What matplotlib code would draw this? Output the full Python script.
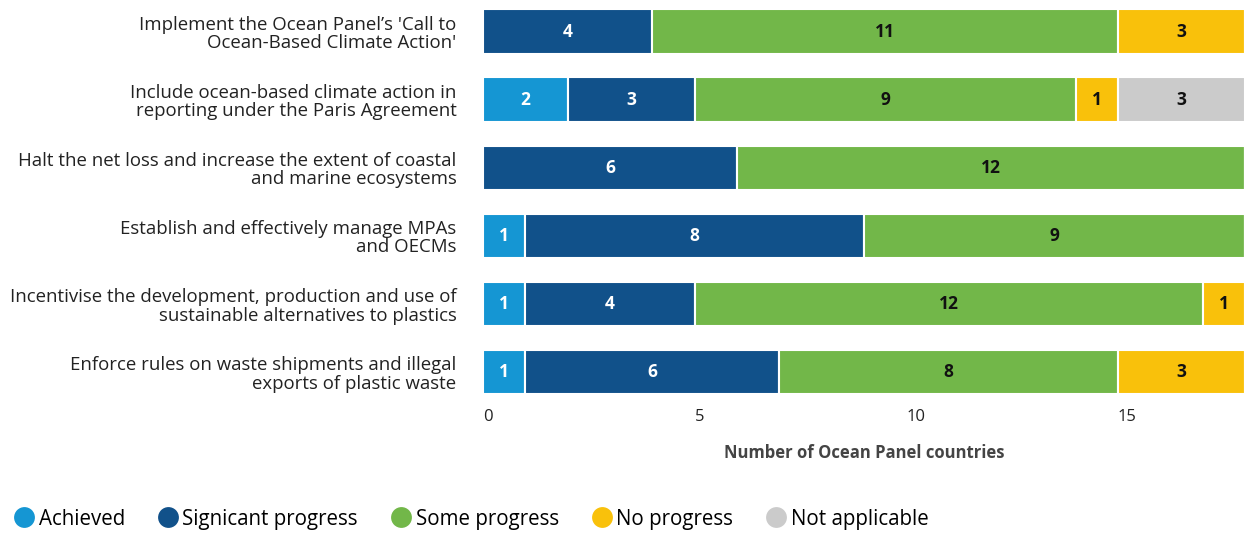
import numpy as np
import matplotlib.pyplot as plt
from matplotlib.lines import Line2D

# ---- data ----
actions = [
    "Implement the Ocean Panel\u2019s 'Call to\nOcean-Based Climate Action'",
    "Include ocean-based climate action in\nreporting under the Paris Agreement",
    "Halt the net loss and increase the extent of coastal\nand marine ecosystems",
    "Establish and effectively manage MPAs\nand OECMs",
    "Incentivise the development, production and use of\nsustainable alternatives to plastics",
    "Enforce rules on waste shipments and illegal\nexports of plastic waste",
]
achieved = [0, 2, 0, 1, 1, 1]
significant = [4, 3, 6, 8, 4, 6]
some = [11, 9, 12, 9, 12, 8]
no_progress = [3, 1, 0, 0, 1, 3]
not_applicable = [0, 3, 0, 0, 0, 0]

status_names = ["Achieved", "Signicant progress", "Some progress", "No progress", "Not applicable"]
status_values = [achieved, significant, some, no_progress, not_applicable]
status_colors = ["#1596d3", "#11518a", "#72b749", "#f9c10b", "#cbcbcb"]
text_colors = ["white", "white", "#111111", "#111111", "#111111"]

xticks = [0, 5, 10, 15]

plt.rcParams['font.family'] = ['Open Sans', 'DejaVu Sans']

fig = plt.figure(figsize=(12.45, 5.33), dpi=100)
ax = fig.add_axes([483 / 1245, 1 - 406 / 533, 1 - 483 / 1245, 406 / 533])

y = np.arange(len(actions))
left = np.zeros(len(actions))
for name, vals, col, tcol in zip(status_names, status_values, status_colors, text_colors):
    vals = np.array(vals, dtype=float)
    ax.barh(y, vals, left=left, height=0.65, color=col, edgecolor='white', linewidth=1.5)
    for yi, (l, v) in enumerate(zip(left, vals)):
        if v > 0:
            ax.text(l + v / 2, yi, f"{int(v)}", ha='center', va='center',
                    color=tcol, fontsize=12.5, fontweight='bold')
    left += vals

ax.set_xlim(0, 18)
ax.set_ylim(5.5, -0.463)
ax.set_yticks(y)
ax.set_yticklabels(actions, fontsize=13.4, color='#222222', linespacing=1.05)
ax.set_xticks(xticks)
ax.set_xticklabels([str(t) for t in xticks], fontsize=12, color='#222222')
ax.tick_params(length=0, axis='y', pad=19)
ax.tick_params(length=0, axis='x', pad=2)
for s in ax.spines.values():
    s.set_visible(False)
for lab in ax.get_xticklabels():
    lab.set_horizontalalignment('left')

ax.set_xlabel("Number of Ocean Panel countries", fontsize=12, fontweight='bold',
              color='#444444', labelpad=14)

# legend with round markers along the bottom
handles = [Line2D([0], [0], marker='o', linestyle='none', markersize=15,
                  markerfacecolor=c, markeredgecolor='none', label=n)
           for n, c in zip(status_names, status_colors)]
fig.legend(handles=handles, loc='center left', bbox_to_anchor=(0.003, 0.026),
           ncol=5, frameon=False, fontsize=14.8, handletextpad=0.1,
           columnspacing=1.5, handlelength=1.2, borderaxespad=0)

plt.savefig("out.png", dpi=100)
